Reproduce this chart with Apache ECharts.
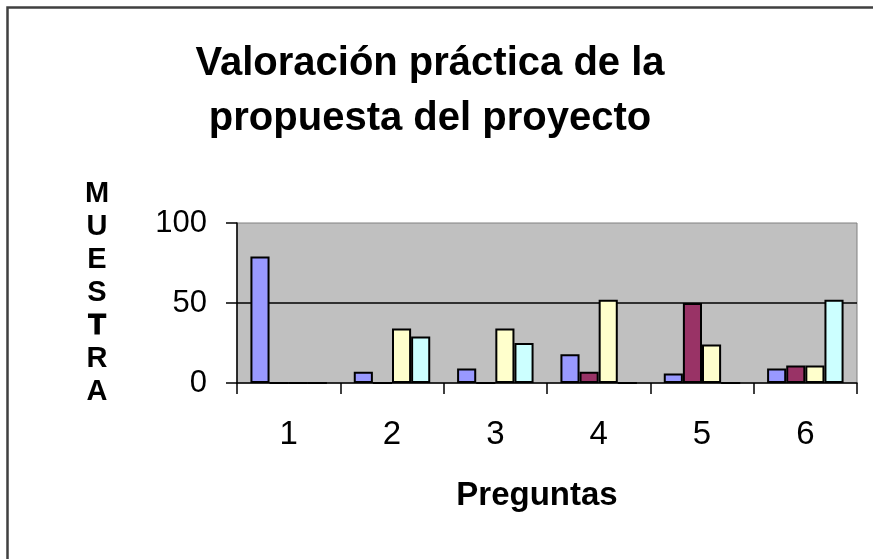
<!DOCTYPE html>
<html>
<head>
<meta charset="utf-8">
<script src="https://cdn.jsdelivr.net/npm/echarts@6/dist/echarts.min.js"></script>
<style>
html,body{margin:0;padding:0;background:#fff;}
#chart{width:873px;height:559px;}
</style>
</head>
<body>
<div id="chart"></div>
<script>
const titleText = 'Valoración práctica de la\npropuesta del proyecto';
const xAxisTitle = 'Preguntas';
const categories = ['1', '2', '3', '4', '5', '6'];
const yTicks = [0, 50, 100];
const serieA = [79, 7, 9, 18, 6, 9];
const serieB = [0, 0, 0, 7, 50, 11];
const serieC = [0, 34, 34, 52, 24, 11];
const serieD = [0, 29, 25, 0, 0, 52];
const colors = ['#9999FF', '#993366', '#FFFFCC', '#CCFFFF'];

const font = 'Liberation Sans, Arial, sans-serif';
const chart = echarts.init(document.getElementById('chart'));

function barSeries(name, data, color) {
  return {
    name: name,
    type: 'bar',
    data: data,
    barGap: '0%',
    barCategoryGap: '26%',
    itemStyle: { color: color, borderColor: '#000', borderWidth: 2 },
    animation: false
  };
}

chart.setOption({
  backgroundColor: '#fff',
  animation: false,
  title: {
    text: titleText,
    left: 425,
    top: 31,
    textAlign: 'center',
    textStyle: { fontFamily: font, fontSize: 40, fontWeight: 'bold', color: '#000', lineHeight: 55 }
  },
  graphic: [{
    type: 'rect',
    shape: { x: 7.5, y: 7.5, width: 950, height: 650 },
    style: { fill: 'none', stroke: '#404040', lineWidth: 2.5 },
    silent: true
  }],
  grid: {
    left: 237, right: 16, top: 223, bottom: 176,
    show: true, backgroundColor: '#C0C0C0', borderColor: '#808080', borderWidth: 1
  },
  xAxis: {
    type: 'category',
    data: categories,
    name: xAxisTitle,
    nameLocation: 'middle',
    nameGap: 96,
    nameTextStyle: { fontFamily: font, fontSize: 33, fontWeight: 'bold', color: '#000', padding: [0, 20, 0, 0] },
    axisLine: { show: true, lineStyle: { color: '#000', width: 1.5 } },
    axisTick: { show: true, length: 11, lineStyle: { color: '#000', width: 1.5 } },
    axisLabel: { fontFamily: font, fontSize: 33, color: '#000', margin: 35 },
    splitLine: { show: false }
  },
  yAxis: {
    type: 'value',
    min: yTicks[0], max: yTicks[yTicks.length - 1], interval: yTicks[1] - yTicks[0],
    name: 'M\nU\nE\nS\n{t|T}\nR\nA',
    nameLocation: 'middle',
    nameRotate: 0,
    nameGap: 140,
    nameTextStyle: {
      fontFamily: font, fontSize: 29, fontWeight: 'bold', color: '#000', lineHeight: 33,
      align: 'center', verticalAlign: 'middle', padding: [0, 0, 20, 0],
      rich: { t: { fontFamily: font, fontSize: 29, fontWeight: 'bold', color: '#000', lineHeight: 33, textBorderColor: '#000', textBorderWidth: 1.2 } }
    },
    axisLine: { show: true, lineStyle: { color: '#000', width: 1.5 } },
    axisTick: { show: true, length: 11, lineStyle: { color: '#000', width: 1.5 } },
    axisLabel: { fontFamily: font, fontSize: 31, color: '#000', margin: 30 },
    splitLine: { show: true, showMinLine: false, showMaxLine: false, lineStyle: { color: '#000', width: 1.5 } }
  },
  series: [
    barSeries('Serie 1', serieA, colors[0]),
    barSeries('Serie 2', serieB, colors[1]),
    barSeries('Serie 3', serieC, colors[2]),
    barSeries('Serie 4', serieD, colors[3])
  ]
});
</script>
</body>
</html>
